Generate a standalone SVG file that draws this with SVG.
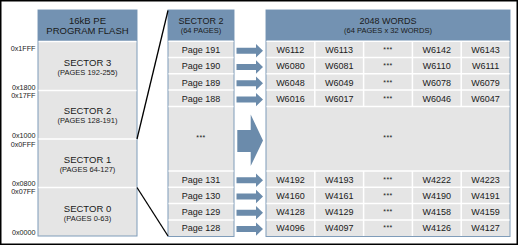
<svg xmlns="http://www.w3.org/2000/svg" width="520" height="247" viewBox="0 0 520 247">
<style>
text{font-family:"Liberation Sans",Arial,sans-serif;fill:#1a1a1a}
.panel{fill:#e5e5e5;stroke:#7f9cb9;stroke-width:1}
.hdr{fill:#7392b2}
.sep{stroke:#ffffff;stroke-width:1.5}
.t9{font-size:9px;text-anchor:middle}
.t10{font-size:9.5px;text-anchor:middle}
.t7{font-size:7.5px;text-anchor:middle}
.st{font-size:7px;text-anchor:middle;letter-spacing:0.5px}
.addr{font-size:7.2px;text-anchor:end}
.conn{stroke:#000;stroke-width:1.3;fill:none}
.arr{fill:#6b8bab}
</style>
<defs>
<path id="sa" d="M0,-3 H19.5 V-6.7 L26.5,0 L19.5,6.7 V3 H0 Z"/>
</defs>
<rect x="0.75" y="0.75" width="516.5" height="243.5" fill="#ffffff" stroke="#000" stroke-width="1.5"/>

<g id="flash">
<rect class="panel" x="38" y="10" width="99" height="226"/>
<rect class="hdr" x="38" y="10" width="99" height="31.5"/>
<line class="sep" x1="38.5" y1="41.5" x2="136.5" y2="41.5"/>
<line class="sep" x1="38.5" y1="90.5" x2="136.5" y2="90.5"/>
<line class="sep" x1="38.5" y1="139" x2="136.5" y2="139"/>
<line class="sep" x1="38.5" y1="187.5" x2="136.5" y2="187.5"/>
<text class="t10" x="87.5" y="23.5">16kB PE</text>
<text class="t10" x="87.5" y="33.5">PROGRAM FLASH</text>
<text class="t10" x="87.5" y="65.5">SECTOR 3</text>
<text class="t7" x="87.5" y="75">(PAGES 192-255)</text>
<text class="t10" x="87.5" y="113.5">SECTOR 2</text>
<text class="t7" x="87.5" y="123">(PAGES 128-191)</text>
<text class="t10" x="87.5" y="162.5">SECTOR 1</text>
<text class="t7" x="87.5" y="171.5">(PAGES 64-127)</text>
<text class="t10" x="87.5" y="211.5">SECTOR 0</text>
<text class="t7" x="87.5" y="221">(PAGES 0-63)</text>
</g>

<g id="addresses">
<text class="addr" x="35.5" y="50.5">0x1FFF</text>
<text class="addr" x="35.5" y="89.8">0x1800</text>
<text class="addr" x="35.5" y="97.6">0x17FF</text>
<text class="addr" x="35.5" y="137.5">0x1000</text>
<text class="addr" x="35.5" y="147">0x0FFF</text>
<text class="addr" x="35.5" y="186.2">0x0800</text>
<text class="addr" x="35.5" y="194">0x07FF</text>
<text class="addr" x="35.5" y="235">0x0000</text>
</g>

<g id="sector2">
<rect class="panel" x="168" y="10" width="66" height="226.5"/>
<rect class="hdr" x="168" y="10" width="66" height="31"/>
<line class="sep" x1="168.5" y1="41.2" x2="233.5" y2="41.2"/>
<line class="sep" x1="168.5" y1="57.5" x2="233.5" y2="57.5"/>
<line class="sep" x1="168.5" y1="73.8" x2="233.5" y2="73.8"/>
<line class="sep" x1="168.5" y1="90.1" x2="233.5" y2="90.1"/>
<line class="sep" x1="168.5" y1="106.4" x2="233.5" y2="106.4"/>
<line class="sep" x1="168.5" y1="171" x2="233.5" y2="171"/>
<line class="sep" x1="168.5" y1="187.3" x2="233.5" y2="187.3"/>
<line class="sep" x1="168.5" y1="203.6" x2="233.5" y2="203.6"/>
<line class="sep" x1="168.5" y1="219.9" x2="233.5" y2="219.9"/>
<text class="t9" x="201" y="24">SECTOR 2</text>
<text class="t7" x="201" y="33.3">(64 PAGES)</text>
<text class="t9" x="201" y="53">Page 191</text>
<text class="t9" x="201" y="69.3">Page 190</text>
<text class="t9" x="201" y="85.6">Page 189</text>
<text class="t9" x="201" y="101.9">Page 188</text>
<text class="st" x="201" y="139.5">***</text>
<text class="t9" x="201" y="182.5">Page 131</text>
<text class="t9" x="201" y="198.8">Page 130</text>
<text class="t9" x="201" y="215.1">Page 129</text>
<text class="t9" x="201" y="231.4">Page 128</text>
</g>

<g id="words">
<rect class="panel" x="266" y="10" width="244" height="226.5"/>
<rect class="hdr" x="266" y="10" width="244" height="31"/>
<line class="sep" x1="266.5" y1="41.2" x2="509.5" y2="41.2"/>
<line class="sep" x1="266.5" y1="57.5" x2="509.5" y2="57.5"/>
<line class="sep" x1="266.5" y1="73.8" x2="509.5" y2="73.8"/>
<line class="sep" x1="266.5" y1="90.1" x2="509.5" y2="90.1"/>
<line class="sep" x1="266.5" y1="106.4" x2="509.5" y2="106.4"/>
<line class="sep" x1="266.5" y1="171" x2="509.5" y2="171"/>
<line class="sep" x1="266.5" y1="187.3" x2="509.5" y2="187.3"/>
<line class="sep" x1="266.5" y1="203.6" x2="509.5" y2="203.6"/>
<line class="sep" x1="266.5" y1="219.9" x2="509.5" y2="219.9"/>
<path class="sep" d="M314.8,41.2 V106.4 M363.6,41.2 V106.4 M412.4,41.2 V106.4 M461.2,41.2 V106.4 M314.8,171 V236 M363.6,171 V236 M412.4,171 V236 M461.2,171 V236"/>
<text class="t9" x="388" y="23.5">2048 WORDS</text>
<text class="t7" x="388" y="32.5">(64 PAGES x 32 WORDS)</text>
<g class="t9">
<text x="290.4" y="53">W6112</text><text x="339.2" y="53">W6113</text><text class="st" x="388" y="52">***</text><text x="436.8" y="53">W6142</text><text x="485.6" y="53">W6143</text>
<text x="290.4" y="69.3">W6080</text><text x="339.2" y="69.3">W6081</text><text class="st" x="388" y="68.3">***</text><text x="436.8" y="69.3">W6110</text><text x="485.6" y="69.3">W6111</text>
<text x="290.4" y="85.6">W6048</text><text x="339.2" y="85.6">W6049</text><text class="st" x="388" y="84.6">***</text><text x="436.8" y="85.6">W6078</text><text x="485.6" y="85.6">W6079</text>
<text x="290.4" y="101.9">W6016</text><text x="339.2" y="101.9">W6017</text><text class="st" x="388" y="100.9">***</text><text x="436.8" y="101.9">W6046</text><text x="485.6" y="101.9">W6047</text>
<text class="st" x="388" y="139.5">***</text>
<text x="290.4" y="182.5">W4192</text><text x="339.2" y="182.5">W4193</text><text class="st" x="388" y="181.5">***</text><text x="436.8" y="182.5">W4222</text><text x="485.6" y="182.5">W4223</text>
<text x="290.4" y="198.8">W4160</text><text x="339.2" y="198.8">W4161</text><text class="st" x="388" y="197.8">***</text><text x="436.8" y="198.8">W4190</text><text x="485.6" y="198.8">W4191</text>
<text x="290.4" y="215.1">W4128</text><text x="339.2" y="215.1">W4129</text><text class="st" x="388" y="214.1">***</text><text x="436.8" y="215.1">W4158</text><text x="485.6" y="215.1">W4159</text>
<text x="290.4" y="231.4">W4096</text><text x="339.2" y="231.4">W4097</text><text class="st" x="388" y="230.4">***</text><text x="436.8" y="231.4">W4126</text><text x="485.6" y="231.4">W4127</text>
</g>
</g>

<g id="connectors">
<line class="conn" x1="168" y1="10.5" x2="137" y2="139"/>
<line class="conn" x1="137" y1="187.5" x2="168" y2="236"/>
<g class="arr">
<use href="#sa" x="236.5" y="50.7"/>
<use href="#sa" x="236.5" y="67"/>
<use href="#sa" x="236.5" y="83.3"/>
<use href="#sa" x="236.5" y="99.6"/>
<path d="M237.3,130 H250.7 V114.5 L263,140.5 L250.7,166 V152 H237.3 Z"/>
<use href="#sa" x="236.5" y="180.2"/>
<use href="#sa" x="236.5" y="196.5"/>
<use href="#sa" x="236.5" y="212.8"/>
<use href="#sa" x="236.5" y="229.1"/>
</g>
</g>
</svg>
